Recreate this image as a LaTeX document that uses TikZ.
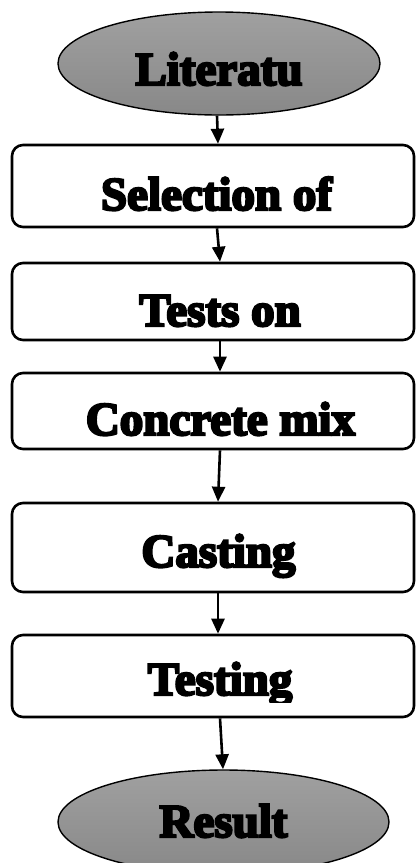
\documentclass[tikz,border=0pt]{standalone}
\usepackage{fontspec}
\setmainfont{Liberation Serif}[BoldFeatures={FakeBold=5}]
\usetikzlibrary{arrows.meta,shapes.geometric}
\definecolor{ovaltop}{HTML}{A0A0A0}
\definecolor{ovalbot}{HTML}{888888}
\begin{document}
\begin{tikzpicture}[x=1pt,y=-1pt,
  stepbox/.style={draw=black,line width=2.6pt,rounded corners=11pt,minimum width=402pt,inner sep=0pt,fill=white},
  oval/.style={draw=black,line width=1.4pt,ellipse,inner sep=0pt,top color=ovaltop,bottom color=ovalbot},
  lbl/.style={anchor=base,inner sep=0pt,font=\fontsize{47}{50}\selectfont\bfseries},
  flow/.style={line width=2.6pt,-{Triangle[length=15pt,width=13pt]}}]
\useasboundingbox (0,0) rectangle (416,863);
\clip (0,0) rectangle (416,863);
% ovals
\node[oval,minimum width=322pt,minimum height=103pt] (e1) at (219,63.5) {};
\node[oval,minimum width=331pt,minimum height=104pt] (e2) at (223.5,822) {};
% boxes
\node[stepbox,minimum height=82pt] (b1) at (213,186) {};
\node[stepbox,minimum height=77pt] (b2) at (213,301.5) {};
\node[stepbox,minimum height=76pt] (b3) at (213,411) {};
\node[stepbox,minimum height=89pt] (b4) at (213,547.5) {};
\node[stepbox,minimum height=82pt] (b5) at (213,676) {};
% texts
\node[lbl] (t0) at (219,85) {Literatu};
\node[lbl] (t1) at (216.5,210) {Selection of};
\node[lbl] (t2) at (220,326) {Tests on};
\node[lbl] (t3) at (220.5,435) {Concrete mix};
\node[lbl] (t4) at (218.5,567) {Casting};
\begin{scope}
\clip (14,640) rectangle (412,702);
\node[lbl] (t5) at (220,695) {Testing};
\end{scope}
\node[lbl] (t6) at (223.5,837) {Result};
% connectors
\draw[flow] ([xshift=-2pt]e1.south) -- ([xshift=5pt]b1.north);
\draw[flow] ([xshift=4pt]b1.south) -- ([xshift=7pt]b2.north);
\draw[flow] ([xshift=7pt]b2.south) -- ([xshift=7pt]b3.north);
\draw[flow] ([xshift=7pt]b3.south) -- ([xshift=5pt]b4.north);
\draw[flow] ([xshift=5pt]b4.south) -- ([xshift=5pt]b5.north);
\draw[flow] ([xshift=7pt]b5.south) -- ([xshift=-0.5pt]e2.north);
\end{tikzpicture}
\end{document}
